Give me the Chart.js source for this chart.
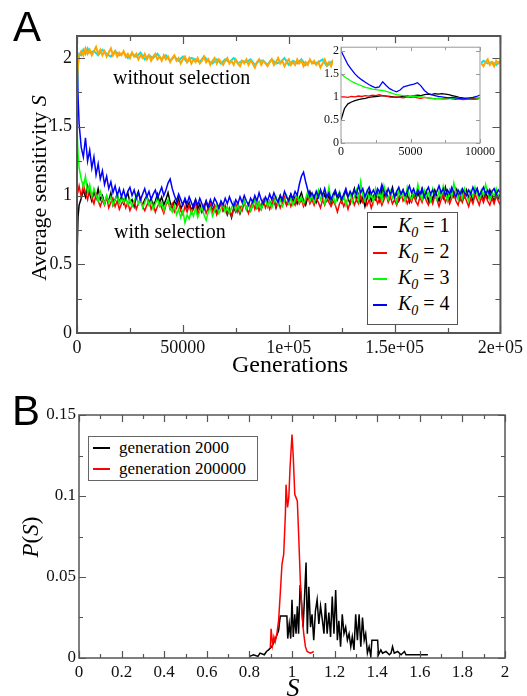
<!DOCTYPE html>
<html>
<head>
<meta charset="utf-8">
<script src="https://cdn.jsdelivr.net/npm/chart.js@4.4.1/dist/chart.umd.min.js"></script>
<style>
  html, body { margin: 0; padding: 0; background: #fff; }
  #wrap { position: relative; width: 527px; height: 696px; overflow: hidden; font-family: 'Liberation Serif', 'Times New Roman', serif; color: #000; }
  canvas { position: absolute; }
  .txt { position: absolute; white-space: nowrap; line-height: 1; }
  .panel { font-family: 'Liberation Sans', Arial, sans-serif; font-size: 42px; }
  .legend { position: absolute; background: #fff; border: 1.5px solid #555; box-sizing: border-box; }
  .row { position: absolute; left: 0; height: 22px; display: flex; align-items: center; white-space: nowrap; }
  .swatch { display: inline-block; height: 2px; }
  .rot { transform: translate(-50%, -50%) rotate(-90deg); }
</style>
</head>
<body>
<div id="wrap">
  <canvas id="chartA" width="527" height="380" style="left:0;top:0"></canvas>
  <canvas id="inset" width="200" height="125" style="left:300px;top:38px"></canvas>
  <canvas id="chartB" width="527" height="316" style="left:0;top:380px"></canvas>

  <div class="txt panel" style="left:13px;top:6px">A</div>
  <div class="txt panel" style="left:12px;top:390px">B</div>

  <div class="txt rot" style="left:39px;top:188px;font-size:22px">Average sensitivity <i>S</i></div>
  <div class="txt" style="left:290px;top:352px;font-size:24px;transform:translateX(-50%)">Generations</div>
  <div class="txt" style="left:113px;top:67px;font-size:20px">without selection</div>
  <div class="txt" style="left:114px;top:221px;font-size:20px">with selection</div>

  <div class="legend" style="left:367px;top:212px;width:91px;height:113px">
    <div class="row" style="top:3px"><span class="swatch" style="background:#000;width:14px;margin-left:5px"></span><span style="margin-left:11px;font-size:20px"><i>K</i><sub style="font-size:14px"><i>0</i></sub> = 1</span></div>
    <div class="row" style="top:29px"><span class="swatch" style="background:#ff0000;width:14px;margin-left:5px"></span><span style="margin-left:11px;font-size:20px"><i>K</i><sub style="font-size:14px"><i>0</i></sub> = 2</span></div>
    <div class="row" style="top:55px"><span class="swatch" style="background:#00ff00;width:14px;margin-left:5px"></span><span style="margin-left:11px;font-size:20px"><i>K</i><sub style="font-size:14px"><i>0</i></sub> = 3</span></div>
    <div class="row" style="top:81px"><span class="swatch" style="background:#0000ff;width:14px;margin-left:5px"></span><span style="margin-left:11px;font-size:20px"><i>K</i><sub style="font-size:14px"><i>0</i></sub> = 4</span></div>
  </div>

  <div class="legend" style="left:88px;top:436px;width:170px;height:45px;border-width:1px;border-color:#666">
    <div class="row" style="top:0px"><span class="swatch" style="background:#000;width:17px;margin-left:4px"></span><span style="margin-left:9px;font-size:17px">generation 2000</span></div>
    <div class="row" style="top:21px"><span class="swatch" style="background:#ff0000;width:17px;margin-left:4px"></span><span style="margin-left:9px;font-size:17px">generation 200000</span></div>
  </div>

  <div class="txt rot" style="left:30px;top:537px;font-size:23px"><i>P</i>(<i>S</i>)</div>
  <div class="txt" style="left:293px;top:675px;font-size:26px;transform:translateX(-50%)"><i>S</i></div>
</div>

<script>
// ---- Panel A: generations in thousands (dense grid for the selected runs)
const genA = [0, 0.5, 1,
  2, 3, 4, 5, 6, 7, 8, 9, 10, 11,
  12, 13, 14, 15, 16, 17, 18, 19, 20, 21,
  22, 23, 24, 25, 26, 27, 28, 29, 30, 31,
  32, 33, 34, 35, 36, 37, 38, 39, 40, 41,
  42, 43, 44, 45, 46, 47, 48, 49, 50, 51,
  52, 53, 54, 55, 56, 57, 58, 59, 60, 61,
  62, 63, 64, 65, 66, 67, 68, 69, 70, 71,
  72, 73, 74, 75, 76, 77, 78, 79, 80, 81,
  82, 83, 84, 85, 86, 87, 88, 89, 90, 91,
  92, 93, 94, 95, 96, 97, 98, 99, 100, 101,
  102, 103, 104, 105, 106, 107, 108, 109, 110, 111,
  112, 113, 114, 115, 116, 117, 118, 119, 120, 121,
  122, 123, 124, 125, 126, 127, 128, 129, 130, 131,
  132, 133, 134, 135, 136, 137, 138, 139, 140, 141,
  142, 143, 144, 145, 146, 147, 148, 149, 150, 151,
  152, 153, 154, 155, 156, 157, 158, 159, 160, 161,
  162, 163, 164, 165, 166, 167, 168, 169, 170, 171,
  172, 173, 174, 175, 176, 177, 178, 179, 180, 181,
  182, 183, 184, 185, 186, 187, 188, 189, 190, 191,
  192, 193, 194, 195, 196, 197, 198, 199, 200];

const sK1 = [0.55, 0.85, 0.93,
  0.98, 1.04, 0.99, 1.07, 1.01, 0.96, 1.03, 0.98, 1.05, 0.97,
  1.00, 0.94, 0.99, 0.96, 1.02, 0.93, 0.97, 1.01, 0.95, 0.99,
  0.94, 0.98, 1.02, 0.95, 0.97, 0.92, 0.99, 1.03, 0.96, 0.93,
  0.97, 1.00, 0.94, 0.98, 0.92, 0.96, 1.01, 0.95, 0.99, 0.93,
  0.97, 1.02, 0.95, 0.91, 0.96, 0.93, 0.98, 0.90, 0.94, 0.97,
  0.91, 0.95, 0.89, 0.93, 0.97, 0.90, 0.94, 0.88, 0.92, 0.96,
  0.90, 0.94, 0.89, 0.93, 0.87, 0.91, 0.95, 0.89, 0.92, 0.86,
  0.90, 0.84, 0.91, 0.88, 0.93, 0.87, 0.92, 0.96, 0.90, 0.94,
  0.89, 0.93, 0.97, 0.91, 0.95, 0.90, 0.94, 0.98, 0.92, 0.96,
  0.93, 0.97, 0.91, 0.96, 1.00, 0.94, 0.98, 0.93, 0.97, 1.01,
  0.95, 0.99, 0.94, 0.98, 1.02, 0.96, 0.93, 0.99, 1.03, 0.97,
  1.00, 0.95, 0.99, 1.04, 0.97, 1.01, 0.96, 1.00, 0.94, 0.99,
  1.03, 0.97, 1.01, 0.95, 0.99, 1.04, 0.98, 0.94, 1.00, 1.05,
  0.97, 1.01, 0.95, 0.99, 0.92, 0.98, 1.03, 0.96, 1.00, 0.97,
  1.02, 0.96, 1.05, 0.99, 1.03, 0.97, 1.01, 1.06, 0.98, 1.02,
  0.96, 1.00, 1.04, 0.97, 1.01, 0.95, 0.99, 1.03, 0.97, 1.02,
  0.98, 1.05, 0.99, 1.03, 0.96, 1.01, 0.97, 1.04, 1.00, 0.96,
  1.02, 0.98, 1.06, 1.00, 0.97, 1.03, 0.99, 1.05, 1.01, 0.97,
  1.03, 0.99, 1.04, 0.98, 1.02, 0.96, 1.01, 1.05, 0.99, 1.03,
  0.97, 1.02, 0.98, 1.04, 1.00, 0.96, 1.02, 0.98, 1.01];

const sK2 = [1.00, 1.03, 1.07,
  0.99, 1.08, 1.02, 0.97, 1.05, 0.99, 0.94, 1.01, 0.96, 0.92,
  0.97, 0.93, 0.99, 0.91, 0.95, 0.98, 0.92, 0.96, 0.90, 0.94,
  0.97, 0.91, 0.95, 0.89, 0.93, 0.96, 0.90, 0.94, 0.98, 0.92,
  0.89, 0.93, 0.96, 0.90, 0.94, 0.88, 0.92, 0.95, 0.91, 0.87,
  0.93, 0.96, 0.90, 0.94, 0.88, 0.91, 0.95, 0.89, 0.86, 0.92,
  0.88, 0.93, 0.87, 0.90, 0.94, 0.86, 0.91, 0.89, 0.93, 0.87,
  0.91, 0.95, 0.88, 0.92, 0.86, 0.90, 0.94, 0.89, 0.93, 0.87,
  0.91, 0.85, 0.90, 0.94, 0.88, 0.92, 0.89, 0.95, 0.91, 0.87,
  0.92, 0.96, 0.90, 0.94, 0.89, 0.93, 0.97, 0.91, 0.95, 0.90,
  0.94, 0.98, 0.92, 0.96, 0.91, 0.95, 0.99, 0.93, 0.97, 0.92,
  0.96, 0.93, 0.99, 0.94, 0.97, 0.92, 0.96, 1.00, 0.94, 0.97,
  0.93, 0.98, 0.95, 0.91, 0.97, 0.93, 0.99, 0.95, 0.92, 0.96,
  0.93, 0.88, 0.94, 0.97, 0.92, 0.96, 0.90, 0.95, 0.99, 0.93,
  0.97, 0.94, 1.00, 0.95, 0.98, 0.93, 0.97, 0.91, 0.96, 0.99,
  0.94, 0.98, 0.93, 0.97, 1.01, 0.95, 0.99, 0.94, 0.97, 0.93,
  0.98, 1.02, 0.96, 0.99, 0.94, 0.98, 0.95, 1.00, 0.96, 0.93,
  0.99, 0.95, 1.01, 0.96, 0.93, 0.98, 0.94, 1.00, 0.97, 0.92,
  0.97, 1.01, 0.95, 0.99, 0.94, 0.98, 1.02, 0.96, 0.93, 0.99,
  0.95, 1.00, 0.96, 0.92, 0.98, 0.94, 1.01, 0.97, 0.93, 0.99,
  0.95, 1.00, 0.96, 0.93, 0.98, 0.94, 1.00, 0.96, 0.93];

const sK3 = [1.50, 1.30, 1.20,
  1.12, 1.06, 1.14, 1.02, 1.08, 0.99, 1.05, 1.00, 0.96, 1.03,
  0.98, 0.94, 1.00, 0.95, 0.99, 0.93, 0.97, 1.01, 0.94, 0.98,
  0.95, 0.99, 0.93, 0.97, 0.92, 0.96, 1.00, 0.94, 0.97, 0.91,
  0.95, 0.99, 0.93, 0.96, 0.90, 0.94, 0.98, 0.92, 0.95, 0.89,
  0.94, 0.97, 0.91, 0.88, 0.93, 0.86, 0.90, 0.84, 0.89, 0.80,
  0.86, 0.83, 0.89, 0.85, 0.91, 0.84, 0.88, 0.92, 0.86, 0.82,
  0.88, 0.91, 0.85, 0.89, 0.93, 0.87, 0.90, 0.94, 0.88, 0.92,
  0.87, 0.91, 0.95, 0.89, 0.93, 0.88, 0.92, 0.96, 0.90, 0.94,
  0.89, 0.93, 0.97, 0.91, 0.95, 0.90, 0.94, 0.98, 0.92, 0.96,
  0.91, 0.95, 0.99, 0.93, 0.97, 0.92, 0.96, 1.00, 0.94, 0.98,
  0.93, 0.97, 1.01, 0.95, 0.99, 0.94, 0.98, 1.03, 0.96, 1.00,
  0.95, 0.99, 1.04, 0.97, 1.01, 0.94, 0.98, 1.06, 0.96, 1.00,
  0.94, 0.99, 1.03, 0.96, 1.00, 0.93, 0.98, 1.02, 0.95, 0.99,
  1.04, 0.97, 1.10, 1.00, 0.96, 1.03, 0.98, 1.01, 0.95, 1.05,
  0.99, 1.02, 0.96, 1.07, 1.00, 0.97, 1.03, 0.98, 1.01, 0.95,
  1.04, 0.99, 1.02, 0.96, 1.06, 1.00, 0.97, 1.03, 0.99, 1.08,
  1.01, 0.97, 1.04, 0.99, 1.02, 0.96, 1.05, 1.00, 0.97, 1.03,
  0.99, 1.07, 1.01, 0.96, 1.04, 0.99, 1.09, 1.02, 0.97, 1.03,
  0.98, 1.05, 1.00, 0.96, 1.03, 0.99, 1.06, 1.01, 0.97, 1.04,
  1.00, 1.08, 1.02, 0.97, 1.03, 0.99, 1.05, 1.00, 0.97];

const sK4 = [2.00, 1.72, 1.52,
  1.35, 1.28, 1.42, 1.25, 1.33, 1.20, 1.28, 1.15, 1.23, 1.12,
  1.18, 1.08, 1.14, 1.05, 1.10, 1.02, 1.07, 1.00, 1.05, 0.99,
  1.04, 0.98, 1.03, 1.06, 1.00, 1.04, 0.98, 1.02, 0.97, 1.01,
  1.05, 0.99, 1.03, 0.97, 1.01, 1.04, 0.98, 1.02, 1.06, 1.00,
  1.04, 1.09, 1.12, 1.05, 1.00, 0.96, 1.01, 0.97, 0.93, 0.98,
  0.94, 0.99, 0.95, 0.91, 0.97, 0.93, 0.98, 0.94, 0.90, 0.96,
  0.92, 0.97, 0.93, 0.98, 0.95, 0.91, 0.96, 0.93, 0.98, 0.94,
  0.99, 0.95, 0.92, 0.97, 0.94, 0.99, 0.95, 1.00, 0.96, 0.93,
  0.98, 0.95, 1.00, 0.96, 1.02, 0.97, 0.94, 0.99, 0.96, 1.01,
  0.97, 1.02, 0.98, 0.95, 1.00, 0.97, 1.03, 0.99, 0.96, 1.01,
  0.98, 1.03, 1.00, 1.08, 1.14, 1.17, 1.10, 1.04, 0.99, 1.02,
  0.98, 1.03, 0.99, 1.04, 1.00, 1.05, 0.99, 1.02, 0.97, 1.01,
  1.04, 0.99, 1.02, 0.97, 1.01, 1.05, 0.99, 1.03, 1.00, 1.04,
  1.01, 1.07, 1.02, 1.05, 0.99, 1.03, 1.06, 1.01, 1.04, 1.00,
  1.05, 1.02, 1.08, 1.03, 1.00, 1.05, 1.01, 1.04, 0.99, 1.03,
  1.06, 1.01, 1.04, 1.00, 1.03, 1.07, 1.02, 1.05, 1.00, 1.04,
  1.01, 1.05, 0.99, 1.03, 1.06, 1.01, 1.04, 1.00, 1.03, 1.07,
  1.02, 1.05, 1.00, 1.04, 1.01, 1.06, 1.02, 0.99, 1.04, 1.01,
  1.05, 1.02, 1.00, 1.04, 1.01, 1.06, 1.02, 1.05, 1.00, 1.03,
  1.06, 1.01, 1.04, 1.00, 1.03, 1.05, 1.01, 1.04, 1.02];

const noSelOrange = [1.78, 1.97, 2.02,
  2.05, 2.02, 2.07, 2.03, 2.06, 2.02, 2.05, 2.08, 2.03, 2.06,
  2.02, 2.05, 2.01, 2.04, 2.07, 2.02, 2.05, 2.01, 2.04, 2.02,
  2.05, 2.01, 2.03, 2.00, 2.04, 2.01, 2.03, 1.99, 2.02, 2.00,
  2.03, 1.99, 2.02, 1.98, 2.01, 2.03, 1.99, 2.01, 1.98, 2.02,
  1.99, 2.01, 1.97, 2.00, 2.02, 1.98, 2.00, 1.96, 1.99, 2.01,
  1.97, 2.00, 1.96, 1.99, 1.97, 2.00, 1.96, 1.98, 2.01, 1.97,
  1.99, 1.95, 1.98, 2.00, 1.96, 1.99, 1.97, 1.95, 1.98, 2.00,
  1.96, 1.98, 1.95, 1.99, 1.96, 1.94, 1.98, 1.96, 1.99, 1.95,
  1.98, 1.96, 1.93, 1.97, 1.99, 1.95, 1.98, 1.96, 1.94, 1.97,
  1.99, 1.95, 1.97, 2.00, 1.96, 1.98, 1.94, 1.97, 1.99, 1.95,
  1.97, 1.95, 1.99, 1.96, 1.98, 1.94, 1.97, 1.95, 1.99, 1.96,
  1.98, 1.95, 1.97, 1.93, 1.96, 1.99, 1.95, 1.97, 1.94, 1.98,
  1.96, 1.99, 1.95, 1.97, 1.94, 1.98, 1.96, 1.93, 1.97, 1.99,
  1.95, 1.97, 1.94, 1.98, 1.96, 1.99, 1.95, 1.97, 1.93, 1.96,
  1.98, 1.95, 1.97, 1.99, 1.94, 1.96, 1.98, 1.95, 1.97, 1.94,
  1.98, 1.96, 1.99, 1.95, 1.97, 1.94, 1.96, 1.98, 1.95, 1.97,
  1.99, 1.95, 1.97, 1.94, 1.98, 1.96, 1.93, 1.97, 1.95, 1.98,
  1.96, 1.99, 1.95, 1.97, 1.94, 1.96, 1.98, 1.95, 1.97, 1.99,
  1.95, 1.97, 1.94, 1.98, 1.96, 1.93, 1.97, 1.95, 1.98, 1.96,
  1.94, 1.97, 1.99, 1.95, 1.97, 1.94, 1.98, 1.96, 1.97];

// second run without selection, sampled every 2000 generations
const genSparse = [0, 0.5, 1, 2, 3, 4, 5, 6,
  8, 10, 12, 14, 16, 18, 20, 22, 24, 26,
  28, 30, 32, 34, 36, 38, 40, 42, 44, 46,
  48, 50, 52, 54, 56, 58, 60, 62, 64, 66,
  68, 70, 72, 74, 76, 78, 80, 82, 84, 86,
  88, 90, 92, 94, 96, 98, 100, 102, 104, 106,
  108, 110, 112, 114, 116, 118, 120, 122, 124, 126,
  128, 130, 132, 134, 136, 138, 140, 142, 144, 146,
  148, 150, 152, 154, 156, 158, 160, 162, 164, 166,
  168, 170, 172, 174, 176, 178, 180, 182, 184, 186,
  188, 190, 192, 194, 196, 198, 200];
const noSelCyan = [1.70, 1.95, 2.03, 2.02, 2.06, 2.03, 2.07, 2.04,
  2.05, 2.02, 2.06, 2.03, 2.01, 2.05, 2.02, 2.04, 2.00, 2.03,
  2.01, 2.04, 1.99, 2.02, 2.00, 2.03, 1.99, 2.02, 1.98, 2.01,
  1.98, 2.01, 1.97, 2.00, 1.99, 1.97, 2.01, 1.98, 1.96, 1.99,
  1.96, 1.99, 1.97, 2.00, 1.96, 1.98, 1.97, 1.99, 1.95, 1.98,
  1.98, 1.95, 1.99, 1.96, 1.97, 2.00, 1.95, 1.98, 1.96, 1.99,
  1.95, 1.98, 1.96, 1.97, 1.99, 1.94, 1.97, 1.99, 1.96, 1.95,
  1.98, 1.95, 1.97, 1.96, 1.99, 1.95, 1.98, 1.96, 1.97, 1.95,
  1.98, 1.96, 1.95, 1.98, 1.96, 1.99, 1.95, 1.97, 1.96, 1.98,
  1.95, 1.98, 1.96, 1.94, 1.98, 1.96, 1.97, 1.95, 1.98, 1.96,
  1.97, 1.95, 1.98, 1.96, 1.97, 1.95, 1.98];

const xTicksA = [0, 50000, 100000, 150000, 200000];
const xTickLabelsA = ['0', '50000', '1e+05', '1.5e+05', '2e+05'];
const xMinorA = [25000, 75000, 125000, 175000];
const yTicksA = [0, 0.5, 1, 1.5, 2];
const yTickLabelsA = ['0', '0.5', '1', '1.5', '2'];
const yMinorA = [0.25, 0.75, 1.25, 1.75];

// ---- Inset: first 10000 generations
const genInset = [0, 250, 500, 750, 1000, 1250, 1500, 1750, 2000, 2250,
  2500, 2750, 3000, 3250, 3500, 3750, 4000, 4250, 4500, 4750,
  5000, 5250, 5500, 5750, 6000, 6250, 6500, 6750, 7000, 7250,
  7500, 7750, 8000, 8250, 8500, 8750, 9000, 9250, 9500, 9750, 10000];
const inK1 = [0.50, 0.75, 0.85, 0.89, 0.92, 0.94, 0.96, 0.97, 0.99, 1.00,
  1.01, 1.02, 1.03, 1.02, 1.01, 1.00, 0.99, 1.00, 1.01, 1.02,
  1.01, 1.03, 1.04, 1.03, 1.05, 1.06, 1.05, 1.07, 1.06, 1.07,
  1.06, 1.05, 1.03, 1.01, 0.99, 0.98, 0.97, 0.96, 0.97, 0.96, 0.97];
const inK2 = [1.00, 1.00, 0.99, 1.01, 1.00, 1.02, 1.01, 1.03, 1.02, 1.04,
  1.03, 1.05, 1.03, 1.02, 1.00, 0.99, 1.00, 0.99, 0.98, 1.00,
  0.99, 1.00, 0.98, 0.97, 0.99, 0.98, 0.97, 0.96, 0.97, 0.96,
  0.97, 0.98, 0.96, 0.95, 0.96, 0.94, 0.95, 0.96, 0.95, 0.96, 0.97];
const inK3 = [1.50, 1.44, 1.39, 1.34, 1.30, 1.27, 1.24, 1.21, 1.19, 1.17,
  1.16, 1.15, 1.14, 1.12, 1.10, 1.07, 1.05, 1.04, 1.03, 1.02,
  1.01, 1.02, 1.01, 1.00, 0.99, 0.98, 0.97, 0.96, 0.97, 0.96,
  0.95, 0.96, 0.97, 0.98, 0.97, 0.96, 0.97, 0.98, 0.99, 0.98, 0.97];
const inK4 = [2.00, 1.85, 1.70, 1.60, 1.50, 1.43, 1.37, 1.32, 1.27, 1.23,
  1.20, 1.22, 1.33, 1.25, 1.18, 1.14, 1.11, 1.15, 1.22, 1.24,
  1.26, 1.28, 1.31, 1.24, 1.14, 1.08, 1.05, 1.03, 1.01, 1.00,
  0.99, 0.98, 0.99, 0.98, 0.97, 0.96, 0.97, 0.98, 0.99, 1.01, 1.04];
const xTicksIn = [0, 5000, 10000];
const xMinorIn = [2500, 7500];
const yTicksIn = [0, 0.5, 1, 1.5, 2];

// ---- Panel B: distributions P(S)
const sGen2000 = [0.80, 0.82, 0.84, 0.85, 0.87, 0.88, 0.89, 0.905, 0.92, 0.937,
  0.945, 0.976, 0.98, 0.987, 0.994, 1.000, 1.006, 1.013, 1.019, 1.025,
  1.031, 1.038, 1.044, 1.052, 1.058, 1.066, 1.072, 1.079, 1.087, 1.094,
  1.102, 1.110, 1.118, 1.126, 1.134, 1.142, 1.150, 1.157, 1.165, 1.173,
  1.181, 1.189, 1.197, 1.205, 1.213, 1.220, 1.228, 1.236, 1.244, 1.252,
  1.260, 1.268, 1.276, 1.283, 1.291, 1.299, 1.307, 1.315, 1.323, 1.331,
  1.339, 1.346, 1.354, 1.362, 1.370, 1.375, 1.402, 1.406, 1.417, 1.425,
  1.441, 1.457, 1.465, 1.472, 1.480, 1.496, 1.512, 1.528, 1.535, 1.550,
  1.600, 1.638];
const pGen2000 = [0.001, 0.002, 0.001, 0.003, 0.002, 0.004, 0.005, 0.007, 0.011, 0.017,
  0.026, 0.026, 0.012, 0.021, 0.012, 0.036, 0.013, 0.027, 0.015, 0.032,
  0.015, 0.045, 0.036, 0.019, 0.035, 0.059, 0.015, 0.044, 0.019, 0.027,
  0.011, 0.029, 0.036, 0.021, 0.032, 0.024, 0.015, 0.034, 0.015, 0.028,
  0.013, 0.038, 0.015, 0.042, 0.011, 0.023, 0.007, 0.027, 0.015, 0.019,
  0.011, 0.015, 0.007, 0.013, 0.005, 0.027, 0.011, 0.027, 0.007, 0.025,
  0.011, 0.015, 0.003, 0.007, 0.001, 0.011, 0.011, 0.002, 0.005, 0.003,
  0.004, 0.002, 0.003, 0.007, 0.003, 0.004, 0.002, 0.004, 0.002, 0.002,
  0.002, 0.002];
const sGen200000 = [0.898, 0.902, 0.909, 0.915, 0.921, 0.929, 0.937, 0.945, 0.953, 0.961,
  0.969, 0.972, 0.979, 0.985, 0.991, 1.000, 1.006, 1.013, 1.019, 1.025,
  1.031, 1.039, 1.047, 1.055, 1.063, 1.071, 1.087, 1.102];
const pGen200000 = [0.006, 0.018, 0.008, 0.013, 0.010, 0.015, 0.023, 0.040, 0.058, 0.064,
  0.089, 0.107, 0.093, 0.099, 0.118, 0.138, 0.124, 0.101, 0.099, 0.097,
  0.077, 0.048, 0.027, 0.015, 0.007, 0.004, 0.003, 0.004];
const xTicksB = [0, 0.2, 0.4, 0.6, 0.8, 1, 1.2, 1.4, 1.6, 1.8, 2];
const xMinorB = [0.1, 0.3, 0.5, 0.7, 0.9, 1.1, 1.3, 1.5, 1.7, 1.9];
const yTicksB = [0, 0.05, 0.1, 0.15];
const yMinorB = [0.025, 0.075, 0.125];

const serif = "'Liberation Serif', 'Times New Roman', Times, serif";
Chart.defaults.font.family = serif;

// inward ticks on all four sides plus a closed frame
const frameTicks = {
  id: 'frameTicks',
  beforeDraw(chart, args, opts) {
    if (!opts.fill) return;
    const a = chart.chartArea, ctx = chart.ctx, f = opts.fill;
    ctx.save();
    ctx.fillStyle = '#fff';
    ctx.fillRect(a.left - f[0], a.top - f[1], a.right - a.left + f[0] + f[2], a.bottom - a.top + f[1] + f[3]);
    ctx.restore();
  },
  afterDraw(chart, args, opts) {
    const {ctx, chartArea: a, scales: {x, y}} = chart;
    ctx.save();
    ctx.strokeStyle = opts.color;
    ctx.lineWidth = opts.tickWidth;
    ctx.beginPath();
    [[opts.xMajor, opts.major], [opts.xMinor, opts.minor]].forEach(([vals, len]) => vals.forEach(v => {
      const px = Math.round(x.getPixelForValue(v)) + 0.5;
      ctx.moveTo(px, a.bottom); ctx.lineTo(px, a.bottom - len);
      ctx.moveTo(px, a.top); ctx.lineTo(px, a.top + len);
    }));
    [[opts.yMajor, opts.major], [opts.yMinor, opts.minor]].forEach(([vals, len]) => vals.forEach(v => {
      const py = Math.round(y.getPixelForValue(v)) + 0.5;
      ctx.moveTo(a.left, py); ctx.lineTo(a.left + len, py);
      ctx.moveTo(a.right, py); ctx.lineTo(a.right - len, py);
    }));
    ctx.stroke();
    ctx.lineWidth = opts.width;
    ctx.strokeRect(a.left, a.top, a.right - a.left, a.bottom - a.top);
    ctx.restore();
  }
};

function series(xs, ys, color, order, scaleX = 1, width = 1.5) {
  return {
    data: xs.map((g, i) => ({x: g * scaleX, y: ys[i]})),
    borderColor: color,
    borderWidth: width,
    order: order,
    pointRadius: 0,
    tension: 0,
    fill: false
  };
}

function axis(min, max, ticks, labels, size, fontSize, pad, horiz) {
  return {
    type: 'linear', min: min, max: max,
    grid: {display: false, drawTicks: false},
    border: {display: false},
    afterBuildTicks: s => { s.ticks = ticks.map(v => ({value: v})); },
    afterFit: s => { if (horiz) s.height = size; else s.width = size; },
    ticks: {
      autoSkip: false, maxRotation: 0, padding: pad, color: '#111',
      font: {family: serif, size: fontSize, style: 'normal', weight: 'normal'},
      callback: (v, i) => labels[i]
    }
  };
}

const baseOpts = {
  responsive: false,
  animation: false,
  events: [],
  plugins: {legend: {display: false}, tooltip: {enabled: false}}
};

function drawAll() {
  // Panel A
  new Chart(document.getElementById('chartA'), {
    type: 'line',
    data: {
      datasets: [
        series(genSparse, noSelCyan, '#00e5ee', 6, 1000, 2),
        series(genA, noSelOrange, '#ffa500', 5, 1000, 2),
        series(genA, sK1, '#000000', 4, 1000),
        series(genA, sK2, '#ff0000', 3, 1000),
        series(genA, sK3, '#00ff00', 2, 1000),
        series(genA, sK4, '#0000ff', 1, 1000)
      ]
    },
    options: {
      ...baseOpts,
      layout: {padding: {top: 36, right: 24, left: 0, bottom: 0}},
      plugins: {
        ...baseOpts.plugins,
        frameTicks: {color: '#555', width: 2, tickWidth: 1.2, major: 8, minor: 5,
          xMajor: xTicksA, xMinor: xMinorA, yMajor: yTicksA, yMinor: yMinorA}
      },
      scales: {
        x: axis(0, 200000, xTicksA, xTickLabelsA, 47, 18, 4, true),
        y: axis(0, 2.16, yTicksA, yTickLabelsA, 77, 18, 5, false)
      }
    },
    plugins: [frameTicks]
  });

  // Inset
  new Chart(document.getElementById('inset'), {
    type: 'line',
    data: {
      datasets: [
        series(genInset, inK1, '#000000', 4, 1, 1.3),
        series(genInset, inK2, '#ff0000', 3, 1, 1.3),
        series(genInset, inK3, '#00ff00', 2, 1, 1.3),
        series(genInset, inK4, '#0000ff', 1, 1, 1.3)
      ]
    },
    options: {
      ...baseOpts,
      layout: {padding: {top: 9, right: 20, left: 0, bottom: 0}},
      plugins: {
        ...baseOpts.plugins,
        frameTicks: {color: '#999', width: 1, tickWidth: 1, major: 4, minor: 3, fill: [8, 4, 1, 13],
          xMajor: xTicksIn, xMinor: xMinorIn, yMajor: yTicksIn, yMinor: []}
      },
      scales: {
        x: axis(0, 10000, xTicksIn, ['0', '5000', '10000'], 20, 12, 2, true),
        y: axis(0, 2.08, yTicksIn, ['0', '0.5', '1', '1.5', '2'], 41, 12, 2, false)
      }
    },
    plugins: [frameTicks]
  });

  // Panel B
  new Chart(document.getElementById('chartB'), {
    type: 'line',
    data: {
      datasets: [
        series(sGen2000, pGen2000, '#000000', 2, 1, 1.5),
        series(sGen200000, pGen200000, '#ff0000', 1, 1, 1.5)
      ]
    },
    options: {
      ...baseOpts,
      layout: {padding: {top: 35, right: 22, left: 0, bottom: 0}},
      plugins: {
        ...baseOpts.plugins,
        frameTicks: {color: '#555', width: 1.5, tickWidth: 1.2, major: 7, minor: 4,
          xMajor: xTicksB, xMinor: xMinorB, yMajor: yTicksB, yMinor: yMinorB}
      },
      scales: {
        x: axis(0, 2, xTicksB, ['0', '0.2', '0.4', '0.6', '0.8', '1', '1.2', '1.4', '1.6', '1.8', '2'], 38, 17, 4, true),
        y: axis(0, 0.15, yTicksB, ['0', '0.05', '0.1', '0.15'], 79, 17, 3, false)
      }
    },
    plugins: [frameTicks]
  });
}

// make sure the serif face is ready before the canvases draw their labels
document.fonts.load("18px 'Liberation Serif'").then(drawAll, drawAll);
</script>
</body>
</html>
